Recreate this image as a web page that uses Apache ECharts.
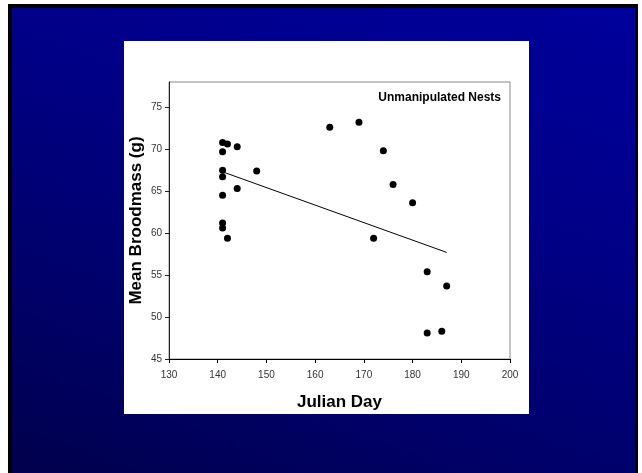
<!DOCTYPE html>
<html>
<head>
<meta charset="utf-8">
<script src="https://cdn.jsdelivr.net/npm/echarts@6/dist/echarts.min.js"></script>
<style>
  html, body { margin: 0; padding: 0; background: #fff; }
  body { width: 642px; height: 473px; position: relative; overflow: hidden; }
  #slide {
    position: absolute; left: 8px; top: 4px; width: 623px; height: 469px;
    border-left: 4px solid #000; border-top: 4px solid #000; border-right: 3px solid #000;
    background: linear-gradient(200deg, #00009c 0%, #000088 35%, #00006a 70%, #00004c 100%);
  }
  #echart { position: absolute; left: 124px; top: 41px; width: 405px; height: 373px; background: #fff; }
</style>
</head>
<body>
<div id="slide"></div>
<div id="echart"></div>
<script>
// nest data
const julianDay = [141, 141, 142, 144, 141, 141, 148, 144, 141, 141, 141, 142,
                   163, 169, 174, 176, 180, 172, 183, 187, 183, 186];
const broodmass = [70.8, 69.7, 70.6, 70.3, 67.5, 66.7, 67.4, 65.3, 64.5, 61.2, 60.6, 59.4,
                   72.6, 73.2, 69.8, 65.8, 63.6, 59.4, 55.4, 53.7, 48.1, 48.3];
// regression line end points
const fitX = [141, 187];
const fitY = [67.3, 57.7];
const xTicks = [130, 140, 150, 160, 170, 180, 190, 200];
const yTicks = [45, 50, 55, 60, 65, 70, 75];

const chart = echarts.init(document.getElementById('echart'));
const tickFont = { fontFamily: "'Liberation Sans', Arial, sans-serif", fontSize: 10, color: '#333' };
const nameFont = { fontFamily: "'Liberation Sans', Arial, sans-serif", fontSize: 17, fontWeight: 'bold', color: '#000' };

chart.setOption({
  animation: false,
  backgroundColor: '#fff',
  title: {
    text: 'Unmanipulated Nests', right: 28, top: 51, padding: 0,
    textStyle: { fontFamily: "'Liberation Sans', Arial, sans-serif", fontSize: 12, fontWeight: 'bold', color: '#000' }
  },
  grid: {
    left: 45, right: 19, top: 41, bottom: 55, outerBoundsMode: 'none', containLabel: false,
    show: true, borderColor: '#888', borderWidth: 1
  },
  xAxis: {
    type: 'value', min: 130, max: 200, interval: 10,
    name: 'Julian Day', nameLocation: 'middle', nameGap: 35, nameTextStyle: nameFont,
    axisLine: { lineStyle: { color: '#000' } },
    axisTick: { length: 4, customValues: xTicks, lineStyle: { color: '#000' } },
    axisLabel: Object.assign({ margin: 11, customValues: xTicks }, tickFont),
    splitLine: { show: false }
  },
  yAxis: {
    type: 'value', min: 45, max: 78, interval: 5,
    name: 'Mean Broodmass (g)', nameLocation: 'middle', nameGap: 24, nameMoveOverlap: false,
    nameTextStyle: nameFont,
    axisLine: { show: true, lineStyle: { color: '#222' } },
    axisTick: { show: true, length: 4, customValues: yTicks, lineStyle: { color: '#222' } },
    axisLabel: Object.assign({ margin: 7, customValues: yTicks }, tickFont),
    splitLine: { show: false }
  },
  series: [
    {
      type: 'scatter', symbol: 'circle', symbolSize: 7,
      itemStyle: { color: '#000', opacity: 1 },
      data: julianDay.map((d, i) => [d, broodmass[i]])
    },
    {
      type: 'line', symbol: 'none',
      lineStyle: { color: '#000', width: 1 },
      data: fitX.map((d, i) => [d, fitY[i]])
    }
  ]
});
</script>
</body>
</html>
